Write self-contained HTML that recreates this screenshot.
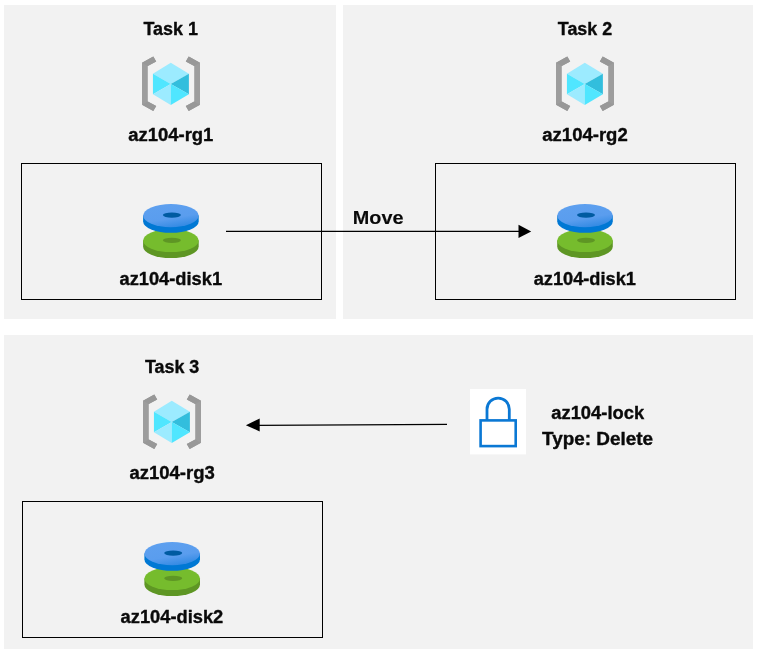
<!DOCTYPE html>
<html>
<head>
<meta charset="utf-8">
<title>Lab diagram</title>
<style>
html,body{margin:0;padding:0;background:#ffffff;}
body{width:757px;height:653px;overflow:hidden;font-family:"Liberation Sans",sans-serif;}
svg{display:block;will-change:transform;}
text{font-family:"Liberation Sans",sans-serif;font-weight:bold;fill:#0a0a0a;stroke:#0a0a0a;stroke-width:0.35px;stroke-linejoin:round;}
</style>
</head>
<body>
<svg width="757" height="653" viewBox="0 0 757 653">
  <defs>
    <linearGradient id="blueTop" x1="0.3" y1="0" x2="0.7" y2="1">
      <stop offset="0" stop-color="#5ea0ef"/>
      <stop offset="0.6" stop-color="#5a9dee"/>
      <stop offset="1" stop-color="#2f88e2"/>
    </linearGradient>

    <!-- Resource group icon, drawn in a 58 x 54.5 box, origin top-left -->
    <g id="rg">
      <!-- left bracket -->
      <path d="M0,6.3 L11.3,0 L14.2,4.9 L5.8,9.5 L5.8,45 L14.2,49.6 L11.3,54.5 L0,48.2 Z" fill="#9d9d9d"/>
      <path d="M0,6.3 L11.3,0 L14.2,4.9 L5.8,9.5 Z" fill="#989898"/>
      <path d="M0,48.2 L5.8,45 L14.2,49.6 L11.3,54.5 Z" fill="#989898"/>
      <!-- right bracket -->
      <path d="M58,6.3 L46.7,0 L43.8,4.9 L52.2,9.5 L52.2,45 L43.8,49.6 L46.7,54.5 L58,48.2 Z" fill="#9d9d9d"/>
      <path d="M58,6.3 L46.7,0 L43.8,4.9 L52.2,9.5 Z" fill="#989898"/>
      <path d="M58,48.2 L52.2,45 L43.8,49.6 L46.7,54.5 Z" fill="#989898"/>
      <!-- cube -->
      <path d="M28.75,6.3 L46.9,17.2 L28.75,27.5 L10.95,17.2 Z" fill="#9cebff"/>
      <path d="M10.95,17.2 L28.75,27.5 L10.95,37.85 Z" fill="#50e6ff"/>
      <path d="M10.95,37.85 L28.75,27.5 L28.75,48.4 Z" fill="#9cebff"/>
      <path d="M46.9,17.2 L28.75,27.5 L46.9,37.85 Z" fill="#32bedd"/>
      <path d="M46.9,37.85 L28.75,27.5 L28.75,48.4 Z" fill="#50e6ff"/>
    </g>

    <!-- Disk icon, origin = centre of top (blue) ellipse -->
    <g id="disk">
      <!-- green disc -->
      <path d="M-27.8,25 L-27.8,31 A27.8,11.4 0 0 0 27.8,31 L27.8,25 Z" fill="#5e9624"/>
      <ellipse cx="0" cy="25" rx="27.8" ry="11.4" fill="#76bc2d"/>
      <ellipse cx="1" cy="24.7" rx="9" ry="2.6" fill="#5e9624"/>
      <!-- blue disc -->
      <path d="M-27.8,0 L-27.8,5.6 A27.8,11.6 0 0 0 27.8,5.6 L27.8,0 Z" fill="#0078d4"/>
      <ellipse cx="0" cy="0" rx="27.8" ry="11.6" fill="url(#blueTop)"/>
      <ellipse cx="1" cy="-0.5" rx="9" ry="2.6" fill="#005ba1"/>
    </g>
  </defs>

  <!-- background panels -->
  <rect x="0" y="0" width="757" height="653" fill="#ffffff"/>
  <rect x="4" y="5" width="332" height="314" fill="#f2f2f2"/>
  <rect x="343" y="5" width="410" height="314" fill="#f2f2f2"/>
  <rect x="4" y="335" width="749" height="314" fill="#f2f2f2"/>

  <!-- boxes -->
  <rect x="21.5" y="163.5" width="300" height="136" fill="none" stroke="#000000" stroke-width="1"/>
  <rect x="435.5" y="163.5" width="300" height="136" fill="none" stroke="#000000" stroke-width="1"/>
  <rect x="22.5" y="501.5" width="300" height="136" fill="none" stroke="#000000" stroke-width="1"/>

  <!-- Task 1 -->
  <text x="143.5" y="34.7" font-size="17.5" textLength="54.5" lengthAdjust="spacingAndGlyphs">Task 1</text>
  <use href="#rg" x="142" y="56.5"/>
  <text x="128.2" y="140.7" font-size="17.5" textLength="85.2" lengthAdjust="spacingAndGlyphs">az104-rg1</text>
  <use href="#disk" x="170.9" y="215.6"/>
  <text x="119.5" y="284.6" font-size="17.5" textLength="102.6" lengthAdjust="spacingAndGlyphs">az104-disk1</text>

  <!-- Task 2 -->
  <text x="557.8" y="34.7" font-size="17.5" textLength="54.4" lengthAdjust="spacingAndGlyphs">Task 2</text>
  <use href="#rg" x="556" y="56.5"/>
  <text x="542.3" y="140.6" font-size="17.5" textLength="85.4" lengthAdjust="spacingAndGlyphs">az104-rg2</text>
  <use href="#disk" x="585" y="215.6"/>
  <text x="533.7" y="284.6" font-size="17.5" textLength="102.2" lengthAdjust="spacingAndGlyphs">az104-disk1</text>

  <!-- Move arrow -->
  <line x1="226" y1="231.4" x2="520" y2="231.4" stroke="#000000" stroke-width="1.3"/>
  <path d="M518.5,224.8 L531.2,231.4 L518.5,238.1 Z" fill="#000000"/>
  <text x="352.8" y="223.8" font-size="17.6" textLength="50.7" lengthAdjust="spacingAndGlyphs" style="stroke-width:0.12px">Move</text>

  <!-- Task 3 -->
  <text x="144.9" y="372.6" font-size="17.5" textLength="54.4" lengthAdjust="spacingAndGlyphs">Task 3</text>
  <use href="#rg" x="143" y="394.5"/>
  <text x="129.4" y="478.6" font-size="17.5" textLength="85.4" lengthAdjust="spacingAndGlyphs">az104-rg3</text>
  <use href="#disk" x="172.2" y="553.6"/>
  <text x="120.6" y="622.6" font-size="17.5" textLength="102.7" lengthAdjust="spacingAndGlyphs">az104-disk2</text>

  <!-- lock arrow -->
  <line x1="258" y1="425.4" x2="447" y2="424.3" stroke="#000000" stroke-width="1.3"/>
  <path d="M245.9,425.2 L259.7,418.6 L259.7,431.4 Z" fill="#000000"/>

  <!-- lock -->
  <rect x="470" y="389" width="56" height="65.4" fill="#ffffff"/>
  <path d="M487,420 L487,409.2 A11.15,11.15 0 0 1 509.3,409.2 L509.3,420" fill="none" stroke="#0a78d4" stroke-width="2.8"/>
  <rect x="480.6" y="420.4" width="35.1" height="25.7" fill="none" stroke="#0a78d4" stroke-width="2.6"/>

  <text x="551.3" y="419" font-size="17.5" textLength="92.8" lengthAdjust="spacingAndGlyphs">az104-lock</text>
  <text x="542" y="444.6" font-size="17.5" textLength="111" lengthAdjust="spacingAndGlyphs">Type: Delete</text>
</svg>
</body>
</html>
